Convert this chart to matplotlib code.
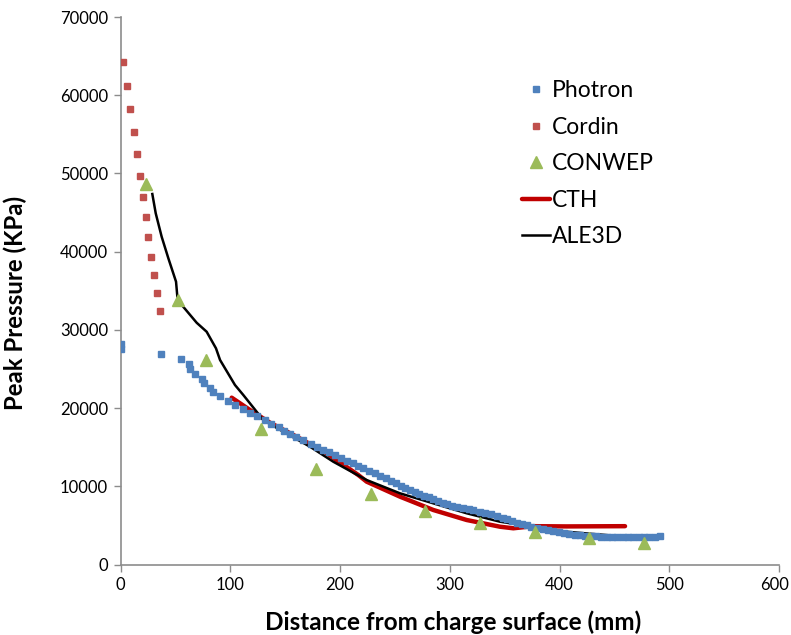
import matplotlib
matplotlib.use("Agg")
import matplotlib.pyplot as plt
import matplotlib.transforms as mtransforms

plt.rcParams['font.family'] = ['Lato', 'DejaVu Sans']

# ---------------- data ----------------
photron_x = [0, 0, 36.6, 55.4, 62.4, 63.6, 67.9, 74.5, 76.4, 81.3, 84.3, 90.9, 97.7, 104.6,
             111.3, 118.0, 124.6, 131.4, 137.4, 144.1, 149.2, 154.7, 160.2, 166.6, 173.6,
             179.0, 184.8, 190.3, 195.7, 201.2, 206.7, 211.6, 216.4, 221.2, 226.7, 231.6,
             236.4, 241.9, 246.2, 251.0, 255.3, 259.5, 263.8, 268.1, 272.3, 276.5, 280.8,
             285.0, 289.3, 293.6, 297.8, 302.1, 306.9, 311.8, 317.8, 321.5, 327.6, 332.4,
             337.3, 342.8, 348.2, 352.4, 356.7, 361.5, 365.8, 370.1, 374.3, 379.8, 384.7,
             389.5, 394.4, 399.3, 404.1, 408.9, 413.9, 418.7, 423.5, 428.4, 433.3, 438.1,
             443.0, 447.8, 452.7, 457.6, 462.4, 467.2, 472.2, 477.0, 481.8, 486.7, 491.6]
photron_y = [28200, 27600, 26870, 26230, 25600, 24960, 24360, 23750, 23170, 22600, 22020,
             21500, 20940, 20430, 19920, 19410, 18950, 18470, 18000, 17540, 17110, 16680,
             16260, 15880, 15470, 15060, 14700, 14340, 13940, 13590, 13270, 12940, 12590,
             12300, 11990, 11660, 11350, 11060, 10680, 10380, 10070, 9780, 9520, 9270, 9010,
             8760, 8590, 8340, 8120, 7900, 7700, 7520, 7350, 7190, 7100, 6930, 6750, 6620,
             6420, 6200, 5950, 5780, 5560, 5340, 5180, 5010, 4830, 4670, 4540, 4450, 4280,
             4130, 4000, 3900, 3810, 3730, 3670, 3620, 3580, 3540, 3520, 3500, 3490, 3490,
             3490, 3500, 3520, 3530, 3540, 3570, 3590]

cordin_x = [2.3, 5.6, 8.9, 12.6, 15.0, 17.5, 20.5, 23.0, 25.3, 28.1, 30.3, 33.3, 35.7]
cordin_y = [64240, 61210, 58200, 55300, 52440, 49670, 46990, 44390, 41830, 39350,
            36970, 34670, 32410]

conwep_x = [23.0, 52.7, 77.9, 128.0, 177.9, 228.0, 277.7, 327.6, 377.7, 427.3, 477.3]
conwep_y = [48610, 33820, 26150, 17290, 12210, 9010, 6800, 5270, 4160, 3360, 2750]

cth_x = [101.3, 118.0, 136.2, 160.5, 187.9, 216.7, 224.3, 254.7, 285.0, 315.4, 345.8,
         357.9, 376.1, 406.6, 459.7]
cth_y = [21330, 19750, 18130, 16340, 14220, 11440, 10590, 8670, 6970, 5690, 4830,
         4630, 4900, 4870, 4900]

ale3d_x = [29.0, 32.1, 37.5, 43.6, 50.6, 51.8, 55.8, 69.4, 78.5, 87.0, 90.7, 104.3,
           111.9, 130.1, 148.3, 172.7, 193.9, 224.3, 254.7, 285.0, 315.4, 345.8, 376.1,
           406.6, 430.8, 459.7, 480.0]
ale3d_y = [47370, 44900, 41910, 39150, 36160, 34240, 33180, 30910, 29760, 27640, 26150,
           22950, 21670, 18470, 16980, 15060, 13140, 10800, 9100, 7820, 6550, 5470, 4830,
           4190, 3900, 3580, 3550]

x_ticks = [0, 100, 200, 300, 400, 500, 600]
y_ticks = [0, 10000, 20000, 30000, 40000, 50000, 60000, 70000]

# ---------------- figure ----------------
W, H = 791, 635
fig = plt.figure(figsize=(W / 100, H / 100), dpi=100)
ax = fig.add_axes([120.5 / W, 1 - 564.5 / H, (779 - 120.5) / W, (564.5 - 17) / H])

ax.plot(cth_x, cth_y, color='#C00000', lw=3.2, solid_capstyle='round', zorder=2, label='CTH')
ax.plot(ale3d_x, ale3d_y, color='black', lw=1.8, zorder=3, label='ALE3D')
ax.plot(photron_x, photron_y, ls='none', marker='s', ms=3.8, color='#4F81BD',
        mec='#4F81BD', zorder=4, label='Photron')
ax.plot(cordin_x, cordin_y, ls='none', marker='s', ms=3.8, color='#C0504D',
        mec='#C0504D', zorder=4, label='Cordin')
ax.plot(conwep_x, conwep_y, ls='none', marker='^', ms=8, color='#9BBB59',
        mec='#9BBB59', zorder=5, label='CONWEP')

ax.set_xlim(0, 600)
ax.set_ylim(0, 70000)
ax.set_xticks(x_ticks)
ax.set_yticks(y_ticks)
ax.set_xticklabels([str(v) for v in x_ticks])
ax.set_yticklabels([str(v) for v in y_ticks])

for s in ['top', 'right']:
    ax.spines[s].set_visible(False)
for s in ['left', 'bottom']:
    ax.spines[s].set_color('#8C8C8C')
    ax.spines[s].set_linewidth(1.2)
ax.tick_params(axis='both', direction='out', length=5, width=1, color='#8C8C8C',
               labelsize=12, labelcolor='black', pad=4)

# keep the last x tick label inside the canvas
last = ax.get_xticklabels()[-1]
last.set_transform(last.get_transform() +
                   mtransforms.ScaledTranslation(-4 / 100, 0, fig.dpi_scale_trans))

ax.set_xlabel('Distance from charge surface (mm)', fontsize=17.5, fontweight='bold')
ax.set_ylabel('Peak Pressure (KPa)', fontsize=17.3, fontweight='bold')
ax.xaxis.set_label_coords(0.505, -0.083)
ax.yaxis.set_label_coords(-0.142, 0.477)

h, l = ax.get_legend_handles_labels()
order = ['Photron', 'Cordin', 'CONWEP', 'CTH', 'ALE3D']
hd = dict(zip(l, h))
leg = fig.legend([hd[k] for k in order], order, loc='upper left',
                 bbox_to_anchor=(522 / W, 1 - 80 / H), frameon=False, fontsize=16.5,
                 handlelength=1.22, handletextpad=0.08, labelspacing=0.68,
                 borderpad=0, borderaxespad=0, markerscale=1.0)

fig.savefig('out.png', dpi=100)
